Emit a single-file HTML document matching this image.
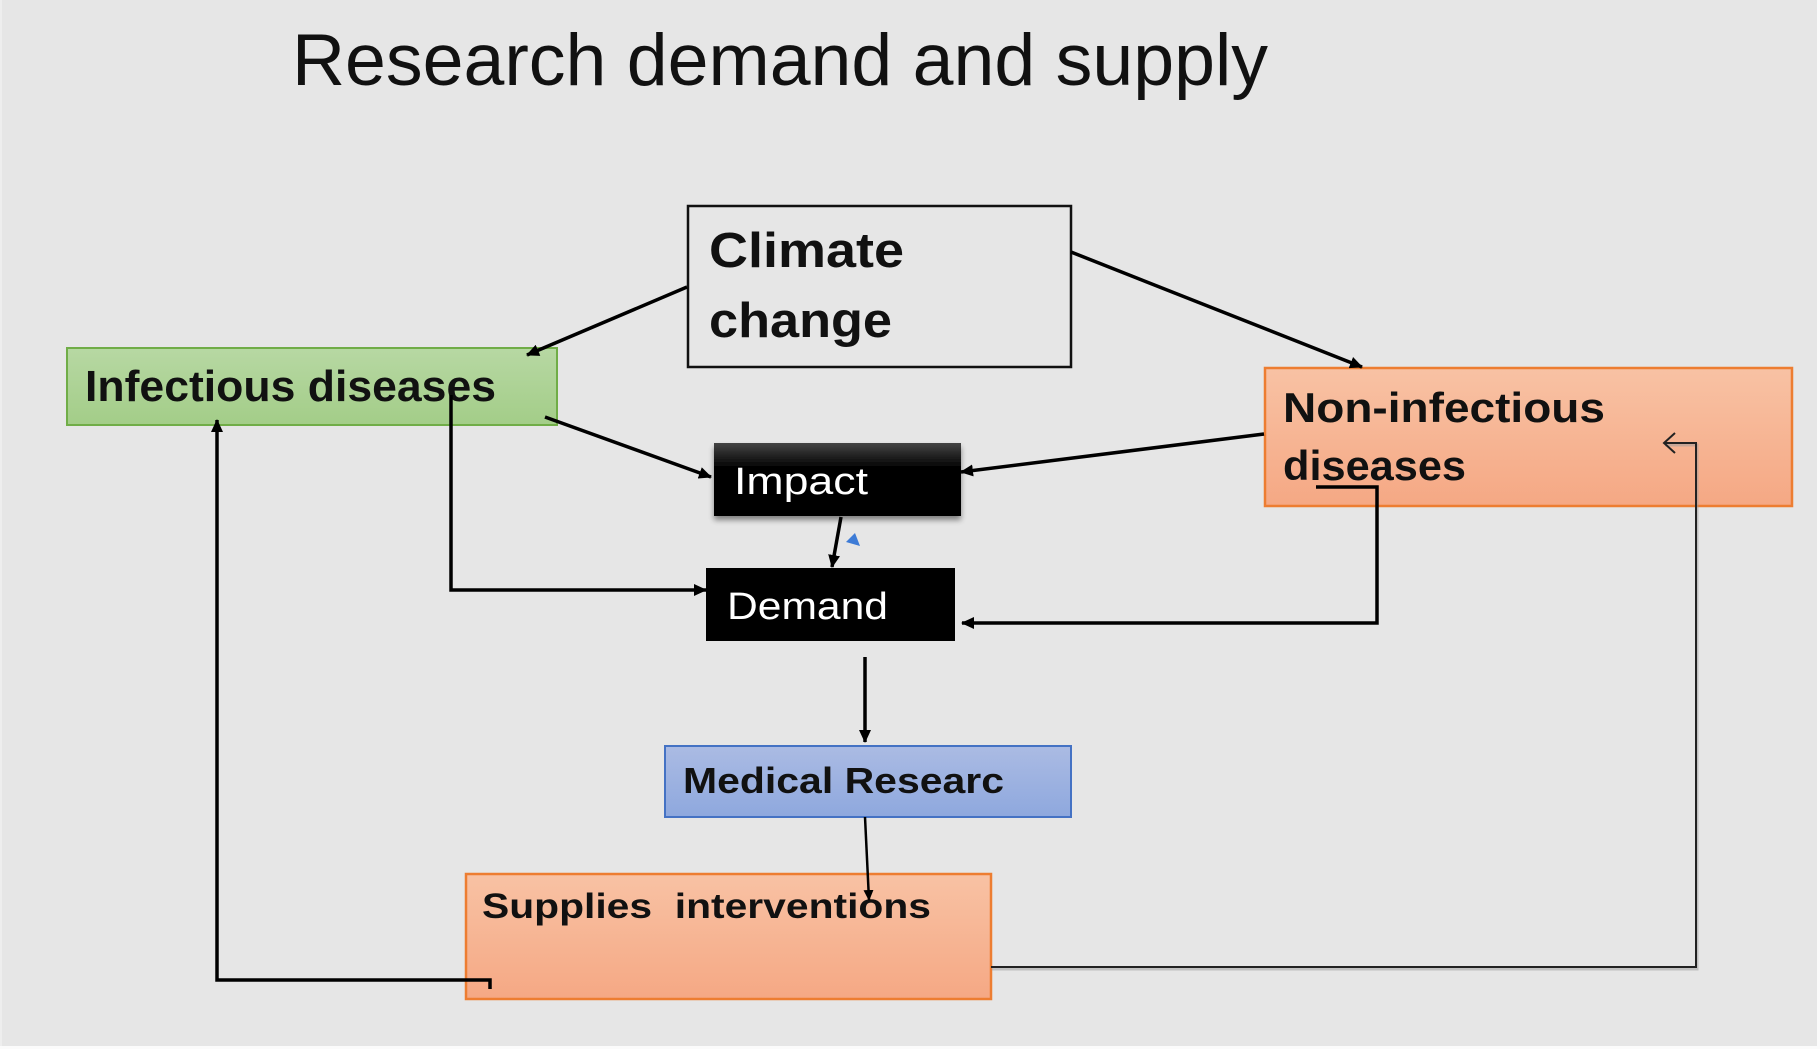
<!DOCTYPE html>
<html>
<head>
<meta charset="utf-8">
<style>
  html, body { margin: 0; padding: 0; background: #e6e6e6; }
  svg { display: block; }
  text { font-family: "Liberation Sans", "DejaVu Sans", sans-serif; }
</style>
</head>
<body>
<svg width="1820" height="1049" viewBox="0 0 1820 1049" xmlns="http://www.w3.org/2000/svg">
  <defs>
    <linearGradient id="gGreen" x1="0" y1="0" x2="0" y2="1">
      <stop offset="0" stop-color="#b7d8a3"/>
      <stop offset="1" stop-color="#a3cd88"/>
    </linearGradient>
    <linearGradient id="gSalmon" x1="0" y1="0" x2="0" y2="1">
      <stop offset="0" stop-color="#f8c2a4"/>
      <stop offset="1" stop-color="#f5a884"/>
    </linearGradient>
    <linearGradient id="gBlue" x1="0" y1="0" x2="0" y2="1">
      <stop offset="0" stop-color="#abbbe3"/>
      <stop offset="1" stop-color="#8ea8de"/>
    </linearGradient>
    <linearGradient id="gImpact" x1="0" y1="0" x2="0" y2="1">
      <stop offset="0" stop-color="#444444"/>
      <stop offset="0.35" stop-color="#000000"/>
      <stop offset="1" stop-color="#000000"/>
    </linearGradient>
    <filter id="shadow" x="-10%" y="-10%" width="130%" height="140%">
      <feGaussianBlur in="SourceAlpha" stdDeviation="3"/>
      <feOffset dx="0" dy="4" result="b"/>
      <feComponentTransfer><feFuncA type="linear" slope="0.45"/></feComponentTransfer>
      <feMerge><feMergeNode/><feMergeNode in="SourceGraphic"/></feMerge>
    </filter>
    <marker id="ah" markerUnits="userSpaceOnUse" markerWidth="14" markerHeight="12" refX="12" refY="6" orient="auto">
      <path d="M0,0 L13,6 L0,12 Z" fill="#000"/>
    </marker>
    <marker id="ahs" markerUnits="userSpaceOnUse" markerWidth="12" markerHeight="10" refX="10" refY="5" orient="auto">
      <path d="M0,0 L11,5 L0,10 Z" fill="#000"/>
    </marker>
  </defs>

  <!-- background -->
  <rect x="0" y="0" width="1820" height="1049" fill="#e6e6e6"/>
  <rect x="0" y="0" width="2" height="1049" fill="#eeeeee"/>
  <rect x="0" y="1046" width="1820" height="3" fill="#fbfbfb"/>
  <rect x="1817" y="0" width="3" height="1049" fill="#fbfbfb"/>

  <!-- title -->
  <text x="292" y="85" font-size="73" fill="#111" textLength="976" lengthAdjust="spacingAndGlyphs">Research demand and supply</text>

  <!-- Climate change box -->
  <rect x="688" y="206" width="383" height="161" fill="none" stroke="#111" stroke-width="2.5"/>
  <text x="709" y="267" font-size="49" font-weight="bold" fill="#111" textLength="195" lengthAdjust="spacingAndGlyphs">Climate</text>
  <text x="709" y="337" font-size="49" font-weight="bold" fill="#111" textLength="183" lengthAdjust="spacingAndGlyphs">change</text>

  <!-- Infectious diseases box -->
  <rect x="67" y="348" width="490" height="77" fill="url(#gGreen)" stroke="#70ad47" stroke-width="2"/>
  <text x="85" y="401" font-size="44" font-weight="bold" fill="#111" textLength="411" lengthAdjust="spacingAndGlyphs">Infectious diseases</text>

  <!-- Non-infectious diseases box -->
  <rect x="1265" y="368" width="527" height="138" fill="url(#gSalmon)" stroke="#ed7d31" stroke-width="2.5"/>
  <text x="1283" y="422" font-size="42" font-weight="bold" fill="#111" textLength="322" lengthAdjust="spacingAndGlyphs">Non-infectious</text>
  <text x="1283" y="480" font-size="42" font-weight="bold" fill="#111" textLength="183" lengthAdjust="spacingAndGlyphs">diseases</text>

  <!-- Impact box -->
  <rect x="714" y="443" width="247" height="73" fill="url(#gImpact)" filter="url(#shadow)"/>
  <text x="734" y="494" font-size="38" fill="#fff" textLength="134" lengthAdjust="spacingAndGlyphs">Impact</text>

  <!-- Demand box -->
  <rect x="706" y="568" width="249" height="73" fill="#000"/>
  <text x="727" y="619" font-size="38" fill="#fff" textLength="161" lengthAdjust="spacingAndGlyphs">Demand</text>

  <!-- Medical research box -->
  <rect x="665" y="746" width="406" height="71" fill="url(#gBlue)" stroke="#4472c4" stroke-width="2"/>
  <text x="683" y="793" font-size="36" font-weight="bold" fill="#111" textLength="321" lengthAdjust="spacingAndGlyphs">Medical Researc</text>

  <!-- Supplies interventions box -->
  <rect x="466" y="874" width="525" height="125" fill="url(#gSalmon)" stroke="#ed7d31" stroke-width="2.5"/>
  <text x="482" y="918" font-size="35" font-weight="bold" fill="#111" textLength="449" lengthAdjust="spacingAndGlyphs">Supplies&#160;&#160;interventions</text>

  <!-- connectors -->
  <g stroke="#000" stroke-width="3.5" fill="none">
    <line x1="687" y1="287" x2="527" y2="355" marker-end="url(#ah)"/>
    <line x1="1071" y1="252" x2="1362" y2="367" marker-end="url(#ah)"/>
    <line x1="545" y1="417" x2="711" y2="477" marker-end="url(#ah)"/>
    <line x1="1264" y1="434" x2="961" y2="472" marker-end="url(#ah)"/>
    <line x1="841" y1="517" x2="832" y2="567" marker-end="url(#ah)"/>
    <polyline points="451,395 451,590 706,590" marker-end="url(#ah)"/>
    <polyline points="1316,487 1377,487 1377,623 962,623" marker-end="url(#ah)"/>
    <line x1="865" y1="657" x2="865" y2="742" marker-end="url(#ah)"/>
    <line x1="865" y1="817" x2="869" y2="900" stroke-width="2.5" marker-end="url(#ahs)"/>
    <polyline points="490,989 490,980 217,980 217,420" marker-end="url(#ah)"/>
  </g>

  <!-- thin return line from Supplies to Non-infectious -->
  <polyline points="991,967 1696,967 1696,443 1664,443" fill="none" stroke="#999" stroke-width="3" opacity="0.5" transform="translate(1,2)"/>
  <polyline points="991,967 1696,967 1696,443 1664,443" fill="none" stroke="#222" stroke-width="2"/>
  <polyline points="1675,433 1664,443 1675,453" fill="none" stroke="#222" stroke-width="2"/>

  <!-- small blue triangle -->
  <polygon points="846,542 855,533 860,546" fill="#3d7bd6"/>
</svg>
</body>
</html>
